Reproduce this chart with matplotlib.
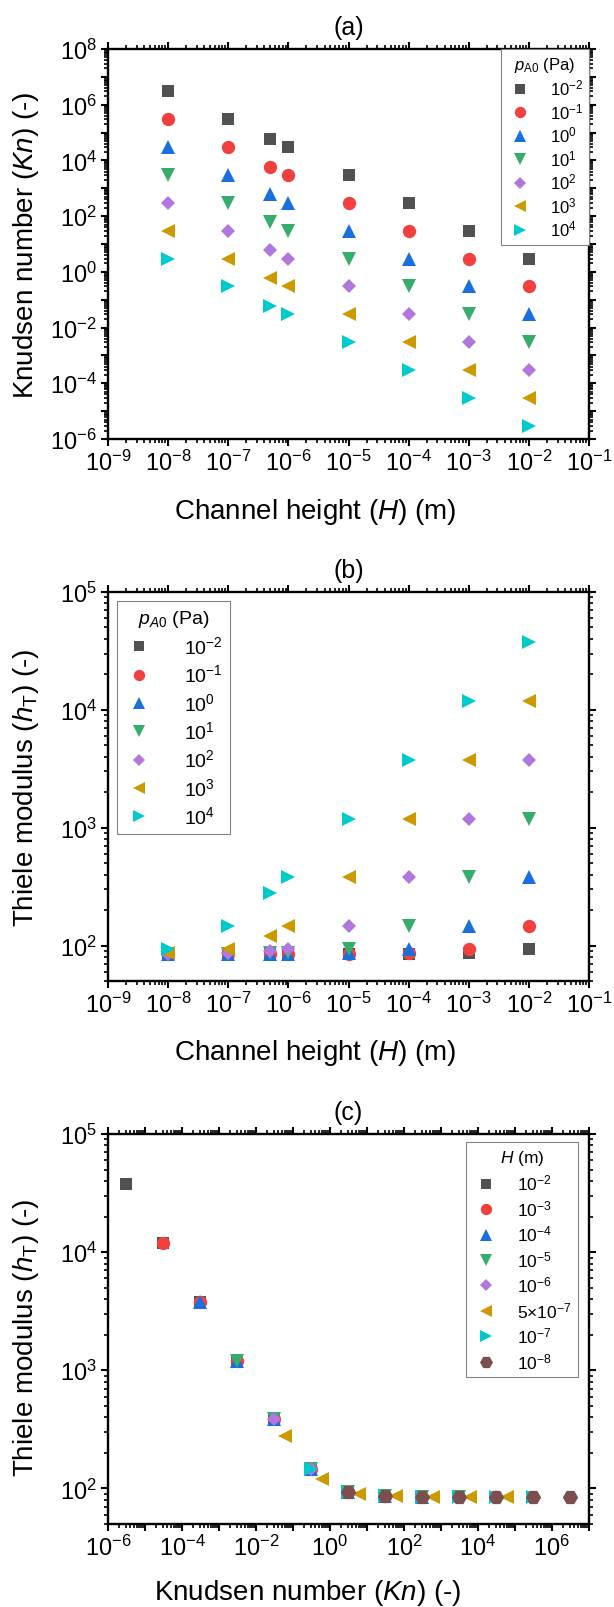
import numpy as np
import matplotlib
matplotlib.use("Agg")
import matplotlib.pyplot as plt
from matplotlib.ticker import LogLocator, FuncFormatter, NullFormatter

plt.rcParams['font.family'] = ['Liberation Sans', 'DejaVu Sans']
plt.rcParams['mathtext.fontset'] = 'custom'
plt.rcParams['mathtext.rm'] = 'Liberation Sans'
plt.rcParams['mathtext.it'] = 'Liberation Sans:italic'
plt.rcParams['mathtext.bf'] = 'Liberation Sans:bold'

# ---------------- data ----------------
H = [1e-8, 1e-7, 5e-7, 1e-6, 1e-5, 1e-4, 1e-3, 1e-2]
H_labels = ['10$^{-8}$', '10$^{-7}$', '5×10$^{-7}$', '10$^{-6}$', '10$^{-5}$',
            '10$^{-4}$', '10$^{-3}$', '10$^{-2}$']
p_labels = ['10$^{-2}$', '10$^{-1}$', '10$^{0}$', '10$^{1}$', '10$^{2}$',
            '10$^{3}$', '10$^{4}$']

# Knudsen number per pressure (rows) for each H (columns)
Kn_p1e_2 = [3e6, 3e5, 6e4, 3e4, 3e3, 3e2, 3e1, 3e0]
Kn_p1e_1 = [3e5, 3e4, 6e3, 3e3, 3e2, 3e1, 3e0, 3e-1]
Kn_p1e0 = [3e4, 3e3, 6e2, 3e2, 3e1, 3e0, 3e-1, 3e-2]
Kn_p1e1 = [3e3, 3e2, 6e1, 3e1, 3e0, 3e-1, 3e-2, 3e-3]
Kn_p1e2 = [3e2, 3e1, 6e0, 3e0, 3e-1, 3e-2, 3e-3, 3e-4]
Kn_p1e3 = [3e1, 3e0, 6e-1, 3e-1, 3e-2, 3e-3, 3e-4, 3e-5]
Kn_p1e4 = [3e0, 3e-1, 6e-2, 3e-2, 3e-3, 3e-4, 3e-5, 3e-6]

# Thiele modulus per pressure for each H
hT_p1e_2 = [85, 85, 85, 85, 85, 85.3, 86, 93]
hT_p1e_1 = [85, 85, 85, 85, 85.3, 86, 93, 147]
hT_p1e0 = [85, 85, 85.2, 85.3, 86, 93, 147, 385]
hT_p1e1 = [85, 85.3, 85.8, 86, 93, 147, 385, 1195]
hT_p1e2 = [85.3, 86, 89.5, 93, 147, 385, 1195, 3770]
hT_p1e3 = [86, 93, 120, 147, 385, 1195, 3770, 11900]
hT_p1e4 = [93, 147, 280, 385, 1195, 3770, 11900, 37700]

Kn_all = [Kn_p1e_2, Kn_p1e_1, Kn_p1e0, Kn_p1e1, Kn_p1e2, Kn_p1e3, Kn_p1e4]
hT_all = [hT_p1e_2, hT_p1e_1, hT_p1e0, hT_p1e1, hT_p1e2, hT_p1e3, hT_p1e4]

colors = ['#515151', '#F14040', '#1A6FDF', '#37AD6B', '#B177DE', '#CC9900',
          '#00CBCC', '#7D4E4E']
markers = ['s', 'o', '^', 'v', 'D', '<', '>', 'H']
msizes = [8.6, 9.6, 10.2, 10.2, 7.4, 10.2, 10.2, 11.0]

# ---------------- figure ----------------
fig = plt.figure(figsize=(6.14, 16.08), dpi=100)
W, Hf = 614.0, 1608.0


def make_ax(top, bottom, left=108, right=589):
    return fig.add_axes([left / W, 1 - bottom / Hf, (right - left) / W, (bottom - top) / Hf])


def style_axis(ax, xlab_exps, ylab_exps):
    for s in ax.spines.values():
        s.set_linewidth(1.7)
    ax.set_xscale('log')
    ax.set_yscale('log')
    for axis, labs in ((ax.xaxis, xlab_exps), (ax.yaxis, ylab_exps)):
        axis.set_major_locator(LogLocator(base=10, numticks=40))
        axis.set_minor_locator(LogLocator(base=10, subs=np.arange(2, 10), numticks=40))
        axis.set_minor_formatter(NullFormatter())

        def fmt(v, pos, labs=labs):
            e = int(round(np.log10(v)))
            return r'$\mathdefault{10^{%d}}$' % e if e in labs else ''
        axis.set_major_formatter(FuncFormatter(fmt))
    ax.tick_params(which='both', direction='out', top=True, right=True,
                   labelsize=17, pad=3)
    ax.tick_params(which='major', length=5, width=1.5)
    ax.tick_params(which='minor', length=2.8, width=1.2)


def add_legend(ax, title, fs, anchor, loc, spacing, tpad):
    leg = ax.legend(loc=loc, bbox_to_anchor=anchor, title=title, fontsize=fs,
                    title_fontsize=fs, frameon=True, fancybox=False, framealpha=1,
                    edgecolor='#808080', borderaxespad=0, labelspacing=spacing,
                    handletextpad=tpad, borderpad=0.35, markerscale=0.85,
                    handlelength=1.6)
    leg.get_frame().set_linewidth(0.8)
    return leg


YLX = -0.14

# ---- panel (a)
ax1 = make_ax(50, 440)
for i in range(7):
    ax1.plot(H, Kn_all[i], linestyle='none', marker=markers[i], ms=msizes[i],
             color=colors[i], mec=colors[i], mew=0, label=p_labels[i])
ax1.set_xlim(1e-9, 1e-1)
ax1.set_ylim(1e-6, 1e8)
style_axis(ax1, list(range(-9, 0)), list(range(-6, 9, 2)))
ax1.set_xlabel('Channel height ($H$) (m)', fontsize=20)
ax1.xaxis.set_label_coords(0.43, -0.145)
ax1.set_ylabel('Knudsen number ($Kn$) (-)', fontsize=20)
ax1.yaxis.set_label_coords(YLX, 0.5)
ax1.set_title('(a)', fontsize=18, pad=11)
add_legend(ax1, r'$p_{\mathrm{A0}}$ (Pa)', 12, (1.0, 1.0), 'upper right', 0.22, 1.0)

# ---- panel (b)
ax2 = make_ax(593, 982)
for i in range(7):
    ax2.plot(H, hT_all[i], linestyle='none', marker=markers[i], ms=msizes[i],
             color=colors[i], mec=colors[i], mew=0, label=p_labels[i])
ax2.set_xlim(1e-9, 1e-1)
ax2.set_ylim(50, 1e5)
style_axis(ax2, list(range(-9, 0)), [2, 3, 4, 5])
ax2.set_xlabel('Channel height ($H$) (m)', fontsize=20)
ax2.xaxis.set_label_coords(0.43, -0.145)
ax2.set_ylabel('Thiele modulus ($h_{\\mathrm{T}}$) (-)', fontsize=20)
ax2.yaxis.set_label_coords(YLX, 0.5)
ax2.set_title('(b)', fontsize=18, pad=11)
add_legend(ax2, r'$p_{A0}$ (Pa)', 14, (0.0187, 0.977), 'upper left', 0.33, 1.5)

# ---- panel (c)
ax3 = make_ax(1135, 1525)
order_c = [7, 6, 5, 4, 3, 2, 1, 0]  # H index: 1e-2 first ... 1e-8 last
for k, j in enumerate(order_c):
    xs = [Kn_all[i][j] for i in range(7)]
    ys = [hT_all[i][j] for i in range(7)]
    ax3.plot(xs, ys, linestyle='none', marker=markers[k], ms=msizes[k],
             color=colors[k], mec=colors[k], mew=0, label=H_labels[j])
ax3.set_xlim(1e-6, 1e7)
ax3.set_ylim(50, 1e5)
style_axis(ax3, list(range(-6, 7, 2)), [2, 3, 4, 5])
ax3.set_xlabel('Knudsen number ($Kn$) (-)', fontsize=20)
ax3.xaxis.set_label_coords(0.415, -0.136)
ax3.set_ylabel('Thiele modulus ($h_{\\mathrm{T}}$) (-)', fontsize=20)
ax3.yaxis.set_label_coords(YLX, 0.48)
ax3.set_title('(c)', fontsize=18, pad=11)
add_legend(ax3, r'$H$ (m)', 12.5, (0.977, 0.979), 'upper right', 0.32, 1.0)

fig.savefig('out.png', dpi=100)
